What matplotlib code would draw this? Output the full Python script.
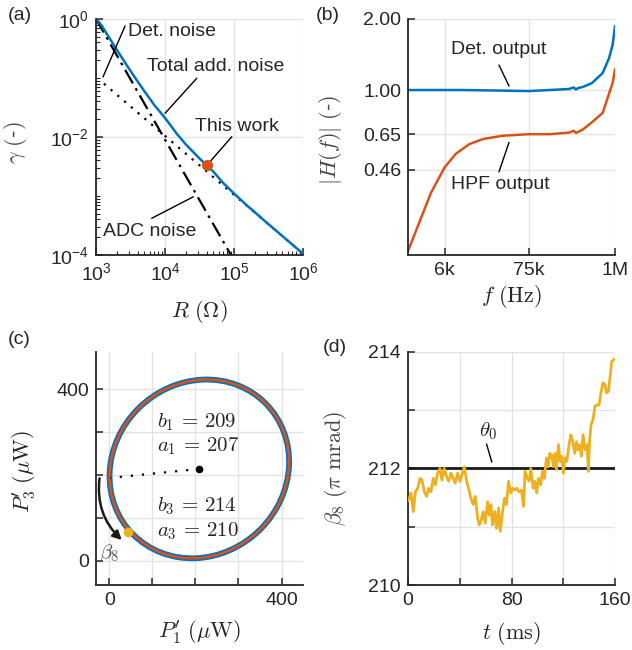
import numpy as np
import matplotlib
matplotlib.use("Agg")
import matplotlib.pyplot as plt
from matplotlib.patches import Ellipse, FancyArrowPatch
from matplotlib.ticker import NullLocator, LogLocator

plt.rcParams['font.family'] = ['Liberation Sans', 'DejaVu Sans']
plt.rcParams['mathtext.fontset'] = 'custom'
plt.rcParams['mathtext.rm'] = 'Liberation Sans'
plt.rcParams['mathtext.it'] = 'Liberation Sans:italic'
plt.rcParams['mathtext.bf'] = 'Liberation Sans:bold'
plt.rcParams['axes.unicode_minus'] = False

BLUE = '#0072BD'
ORANGE = '#D95319'
YELLOW = '#EDB120'
DARK = '#262626'
GRID = '#e3e3e3'

# (a) noise vs resistance
R_total = [1e3, 1.2e3, 1.5e3, 2e3, 2.5e3, 3e3, 4e3, 5e3, 7e3, 1e4, 1.5e4, 2e4, 3e4,
           4e4, 5e4, 7e4, 1e5, 1.5e5, 2e5, 3e5, 5e5, 7e5, 1e6]
g_total = [1.0, 0.78, 0.51, 0.30, 0.20, 0.144, 0.0875, 0.060, 0.0347, 0.021, 0.0111,
           0.0075, 0.0046, 0.0033, 0.0026, 0.00165, 0.0011, 7.1e-4, 5.3e-4, 3.5e-4,
           2.1e-4, 1.5e-4, 1.05e-4]
R_det = [1.3e3, 1e6]
g_det = [0.08, 1.05e-4]
R_adc = [1e3, 9e4]
g_adc = [1.0, 1e-4]
R_work = 4e4
g_work = 3.4e-3

# (b) transfer functions
f_det = [2e3, 5e3, 1e4, 3e4, 7.5e4, 1.4e5, 2.5e5, 2.9e5, 3.1e5, 3.3e5, 3.8e5,
         5e5, 6.9e5, 8.4e5, 9.3e5, 1e6]
H_det = [1.0, 1.0, 1.0, 0.995, 0.99, 1.0, 1.01, 1.025, 1.005, 1.02, 1.03,
         1.07, 1.18, 1.37, 1.55, 1.86]
f_hpf = [2e3, 4e3, 6e3, 8.4e3, 1.26e4, 1.9e4, 3.4e4, 7.5e4, 1.4e5, 2.5e5, 2.9e5,
         3.1e5, 3.8e5, 5e5, 6.9e5, 8.4e5, 9.3e5, 1e6]
H_hpf = [0.208, 0.368, 0.47, 0.537, 0.59, 0.62, 0.64, 0.65, 0.65, 0.66, 0.672,
         0.658, 0.68, 0.73, 0.80, 0.97, 1.07, 1.22]

# (c) ellipse fit parameters
b1, a1 = 209, 207
b3, a3 = 214, 210
ell_w, ell_h, ell_angle = 434, 400, 45
start_pt = (1.5, 193)
beta_pt = (44, 67.5)

# (d) beta_8 over time
t_ms = [0, 1.0, 2.3, 4.1, 5.7, 7.5, 9.3, 10.8, 12.6, 14.4, 15.9, 17.7, 19.5, 21.1,
        22.9, 24.7, 26.2, 28.0, 29.8, 31.4, 33.2, 35.0, 36.5, 38.3, 40.1, 41.7,
        43.5, 45.3, 46.8, 48.6, 50.4, 52.0, 53.8, 55.0, 56.3, 58.1, 59.7, 61.5,
        62.8, 64.1, 65.3, 67.1, 68.4, 70.0, 71.3, 73.1, 74.6, 76.1, 77.7, 79.5,
        80.8, 82.6, 84.1, 85.9, 87.7, 89.3, 90.5, 91.8, 93.6, 94.9, 96.7, 98.0,
        99.5, 100.8, 102.6, 103.9, 105.5, 107.0, 108.3, 109.6, 111.1, 112.4,
        113.7, 114.7, 116.3, 117.6, 118.8, 120.1, 121.4, 122.7, 124.5, 125.8,
        127.1, 128.9, 130.2, 131.4, 132.7, 134.0, 135.3, 136.9, 138.4, 139.4,
        140.4, 141.5, 143.0, 144.5, 145.9, 147.7, 148.9, 150.7, 152.3, 153.3,
        154.9, 156.4, 157.4, 159.2]
beta8 = [211.45, 211.49, 211.58, 211.26, 211.6, 211.66, 211.83, 211.8, 211.6,
         211.52, 211.66, 211.6, 211.83, 211.72, 211.92, 212.0, 211.8, 212.0,
         211.86, 211.78, 211.92, 211.83, 211.75, 211.92, 211.78, 211.89, 212.03,
         211.78, 211.66, 211.49, 211.38, 211.52, 211.15, 211.03, 211.09, 211.26,
         211.06, 211.43, 211.2, 211.38, 211.03, 211.26, 210.97, 211.32, 210.92,
         211.26, 211.49, 211.38, 211.78, 211.58, 211.66, 211.63, 211.66, 211.6,
         211.63, 211.35, 211.95, 211.86, 211.78, 212.0, 211.66, 211.78, 211.58,
         211.83, 211.72, 211.95, 211.83, 212.18, 212.03, 212.26, 212.23, 212.03,
         212.26, 211.98, 212.41, 212.12, 212.21, 211.92, 212.18, 212.12, 212.41,
         212.58, 212.49, 212.26, 212.46, 212.32, 212.41, 212.21, 212.58, 212.32,
         212.41, 211.95, 212.49, 212.75, 212.84, 213.07, 213.09, 213.09, 213.27,
         213.47, 213.44, 213.3, 213.32, 213.61, 213.84, 213.87]
theta0 = 212

FS = 14
CM = dict(math_fontfamily='cm')

fig = plt.figure(figsize=(6.32, 6.5), dpi=100)
ax_a = fig.add_axes([0.152, 0.6077, 0.3275, 0.3631])
ax_b = fig.add_axes([0.6456, 0.6077, 0.3275, 0.3631])
ax_c = fig.add_axes([0.152, 0.1, 0.3275, 0.3585])
ax_d = fig.add_axes([0.6456, 0.1, 0.3275, 0.3585])

for ax in (ax_a, ax_b, ax_c, ax_d):
    for s in ('top', 'right'):
        ax.spines[s].set_visible(False)
    for s in ('left', 'bottom'):
        ax.spines[s].set_linewidth(1.3)
        ax.spines[s].set_color(DARK)
    ax.tick_params(which='both', direction='in', labelsize=FS, colors=DARK, pad=5)
    ax.tick_params(which='major', length=5, width=1.1)
    ax.tick_params(which='minor', length=3, width=0.8)
    ax.grid(True, which='major', color=GRID, lw=1.0)
    ax.set_axisbelow(True)

# ---- (a)
ax = ax_a
ax.set_xscale('log')
ax.set_yscale('log')
ax.plot(R_adc, g_adc, color='k', lw=1.6, dashes=(7, 2.5, 1.2, 2.5))
ax.plot(R_det, g_det, color='k', lw=1.6, linestyle=(0, (1, 3)))
ax.plot(R_total, g_total, color=BLUE, lw=1.8)
ax.plot([R_work], [g_work], 'o', color=ORANGE, ms=7, zorder=5)
ax.set_xlim(1e3, 1e6)
ax.set_ylim(1e-4, 1)
ax.set_xticks([1e3, 1e4, 1e5, 1e6])
ax.set_yticks([1e-4, 1e-2, 1])
ax.xaxis.set_minor_locator(LogLocator(base=10, subs=np.arange(2, 10)))
ax.yaxis.set_minor_locator(LogLocator(base=10, subs=np.arange(1, 10), numticks=20))
ax.tick_params(which='minor', labelleft=False, labelbottom=False)
ax.set_xlabel(r'$R\ (\Omega)$', fontsize=16, color=DARK, **CM)
ax.set_ylabel(r'$\gamma\ ($-$)$', fontsize=16, color='#444444', **CM)
ax.xaxis.set_label_coords(0.5, -0.182)
ax.yaxis.set_label_coords(-0.324, 0.475)
lines_a = [((2.63e3, 0.76), (1.26e3, 0.104)),
           ((2.88e4, 0.099), (1e4, 0.0252)),
           ((9.27e4, 0.0101), (4.49e4, 3.82e-3)),
           ((6.41e3, 4.19e-4), (2.57e4, 9.7e-4))]
for p0, p1 in lines_a:
    ax.annotate('', xy=p1, xytext=p0,
                arrowprops=dict(arrowstyle='-', color='k', lw=1.0, shrinkA=0, shrinkB=0))
ax.text(2.94e3, 0.61, 'Det. noise', fontsize=FS, va='center', color=DARK)
ax.text(5.42e3, 0.156, 'Total add. noise', fontsize=FS, va='center', color=DARK)
ax.text(2.72e4, 0.015, 'This work', fontsize=FS, va='center', color=DARK)
ax.text(1.28e3, 2.48e-4, 'ADC noise', fontsize=FS, va='center', color=DARK)

# ---- (b)
ax = ax_b
ax.set_xscale('log')
ax.set_yscale('log')
ax.plot(f_det, H_det, color=BLUE, lw=1.8)
ax.plot(f_hpf, H_hpf, color=ORANGE, lw=1.8)
ax.set_xlim(2e3, 1e6)
ax.set_ylim(0.2, 2.0)
ax.set_xticks([6e3, 7.5e4, 1e6])
ax.set_xticklabels(['6k', '75k', '1M'])
ax.set_yticks([0.46, 0.65, 1.0, 2.0])
ax.set_yticklabels(['0.46', '0.65', '1.00', '2.00'])
ax.xaxis.set_minor_locator(NullLocator())
ax.yaxis.set_minor_locator(NullLocator())
ax.set_xlabel(r'$f\ (\mathrm{Hz})$', fontsize=16, color=DARK, **CM)
ax.set_ylabel(r'$|H(f)|\ ($-$)$', fontsize=16, color='#444444', **CM)
ax.xaxis.set_label_coords(0.5, -0.119)
ax.yaxis.set_label_coords(-0.309, 0.487)
ax.annotate('', xy=(4.15e4, 1.04), xytext=(3.07e4, 1.276),
            arrowprops=dict(arrowstyle='-', color='k', lw=1.0, shrinkA=0, shrinkB=0))
ax.annotate('', xy=(4.15e4, 0.60), xytext=(3.07e4, 0.45),
            arrowprops=dict(arrowstyle='-', color='k', lw=1.0, shrinkA=0, shrinkB=0))
ax.text(7.27e3, 1.48, 'Det. output', fontsize=FS, va='center', color=DARK)
ax.text(7.27e3, 0.396, 'HPF output', fontsize=FS, va='center', color=DARK)

# ---- (c)
ax = ax_c
ax.add_patch(Ellipse((b1, b3), ell_w, ell_h, angle=ell_angle, fill=False,
                     ec=BLUE, lw=4.2, zorder=3))
ax.add_patch(Ellipse((b1, b3), ell_w, ell_h, angle=ell_angle, fill=False,
                     ec=ORANGE, lw=1.9, zorder=4))
ax.plot([b1, start_pt[0]], [b3, start_pt[1]], color='k', lw=1.6,
        linestyle=(0, (1, 4)), zorder=5)
ax.plot([b1], [b3], 'o', color='k', ms=4.5, zorder=6)
ax.plot([beta_pt[0]], [beta_pt[1]], 'o', color=YELLOW, ms=6, zorder=6)
arr = FancyArrowPatch((-23, 192), (29, 48), connectionstyle='arc3,rad=0.25',
                      arrowstyle='-|>', mutation_scale=13, color='#1a1a1a', lw=1.8,
                      shrinkA=0, shrinkB=0, zorder=6)
ax.add_patch(arr)
ax.set_xlim(-31, 450)
ax.set_ylim(-57, 487)
ax.set_xticks([0, 100, 200, 300, 400])
ax.set_xticklabels(['0', '', '', '', '400'])
ax.set_yticks([0, 100, 200, 300, 400])
ax.set_yticklabels(['0', '', '', '', '400'])
ax.set_xlabel(r"$P_1'\ (\mu\mathrm{W})$", fontsize=16, color=DARK, **CM)
ax.set_ylabel(r"$P_3'\ (\mu\mathrm{W})$", fontsize=16, color=DARK, **CM)
ax.xaxis.set_label_coords(0.5, -0.142)
ax.yaxis.set_label_coords(-0.28, 0.486)
ax.text(110, 324, r'$b_1\,=\,%d$' % b1, fontsize=15, va='center', color=DARK, **CM)
ax.text(110, 266, r'$a_1\,=\,%d$' % a1, fontsize=15, va='center', color=DARK, **CM)
ax.text(110, 126, r'$b_3\,=\,%d$' % b3, fontsize=15, va='center', color=DARK, **CM)
ax.text(110, 69, r'$a_3\,=\,%d$' % a3, fontsize=15, va='center', color=DARK, **CM)
ax.text(-24, 18, r'$\beta_8$', fontsize=15, va='center', color='#555555', **CM)

# ---- (d)
ax = ax_d
ax.axhline(theta0, color='#1a1a1a', lw=2.0, zorder=3)
ax.plot(t_ms, beta8, color=YELLOW, lw=2.0, zorder=4)
ax.set_xlim(0, 160)
ax.set_ylim(210, 214)
ax.set_xticks([0, 40, 80, 120, 160])
ax.set_xticklabels(['0', '', '80', '', '160'])
ax.set_yticks([210, 211, 212, 213, 214])
ax.set_yticklabels(['210', '', '212', '', '214'])
ax.set_xlabel(r'$t\ (\mathrm{ms})$', fontsize=16, color=DARK, **CM)
ax.set_ylabel(r'$\beta_8\ (\pi\ \mathrm{mrad})$', fontsize=16, color='#444444', **CM)
ax.xaxis.set_label_coords(0.5, -0.150)
ax.yaxis.set_label_coords(-0.285, 0.50)
ax.annotate('', xy=(64.8, 212.11), xytext=(60.7, 212.42),
            arrowprops=dict(arrowstyle='-', color='k', lw=1.0, shrinkA=0, shrinkB=0))
ax.text(62, 212.64, r'$\theta_0$', fontsize=15, ha='center', va='center', color=DARK, **CM)

# panel labels
for lbl, x, y in [('(a)', 8, 15), ('(b)', 316, 15), ('(c)', 8, 340), ('(d)', 323, 348)]:
    fig.text(x / 632, 1 - y / 650, lbl, fontsize=14, va='center', ha='left', color=DARK)

fig.savefig('out.png', dpi=100)
